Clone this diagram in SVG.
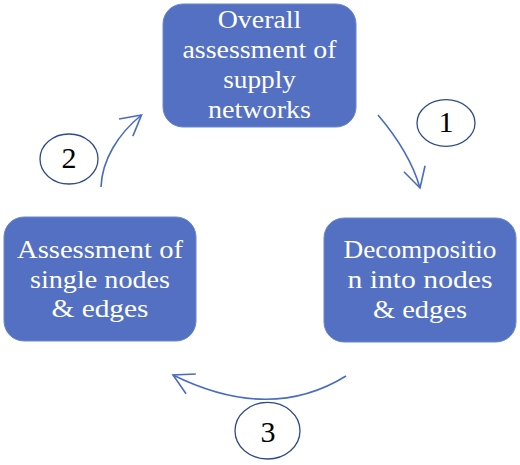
<svg xmlns="http://www.w3.org/2000/svg" width="520" height="465" viewBox="0 0 520 465">
<style>
.box{fill:#5370C2;stroke:#6B86CE;stroke-width:1}
.lbl{font-family:"Liberation Serif","Times New Roman",serif;font-size:24.5px;fill:#ffffff;text-anchor:middle}
.num{font-family:"Liberation Serif","Times New Roman",serif;font-size:30px;fill:#000000;text-anchor:middle}
.ell{fill:#ffffff;stroke:#2F4A8C;stroke-width:1.3}
.con{fill:none;stroke:#4A6CC0;stroke-width:1.6}
</style>
<defs>
<marker id="ah" markerUnits="userSpaceOnUse" markerWidth="30" markerHeight="30" viewBox="-25 -15 30 30" refX="0" refY="0" orient="auto">
<path d="M-20,-11 L0,0 L-20,11" fill="none" stroke="#4A6CC0" stroke-width="1.6"/>
</marker>
</defs>
<rect width="520" height="465" fill="#ffffff"/>
<g id="connectors">
<path class="con" d="M378,115 C395,135 412,160 420,188" marker-end="url(#ah)"/>
<path class="con" d="M346,376 Q270,423 173,375" marker-end="url(#ah)"/>
<path class="con" d="M101,187 C102,160 118,134 141.5,115" marker-end="url(#ah)"/>
</g>
<g id="node-overall">
<rect class="box" x="163" y="4" width="193" height="123" rx="20"/>
<text class="lbl" x="259.5" y="28.3" textLength="83.6" lengthAdjust="spacingAndGlyphs">Overall</text>
<text class="lbl" x="259.5" y="58.3" textLength="154" lengthAdjust="spacingAndGlyphs">assessment of</text>
<text class="lbl" x="259.5" y="88" textLength="72.7" lengthAdjust="spacingAndGlyphs">supply</text>
<text class="lbl" x="259.5" y="118" textLength="103" lengthAdjust="spacingAndGlyphs">networks</text>
</g>
<g id="node-decomposition">
<rect class="box" x="324" y="218" width="192" height="124" rx="20"/>
<text class="lbl" x="420" y="257.7" textLength="153" lengthAdjust="spacingAndGlyphs">Decompositio</text>
<text class="lbl" x="420" y="288.3" textLength="145" lengthAdjust="spacingAndGlyphs">n into nodes</text>
<text class="lbl" x="420" y="318" textLength="94" lengthAdjust="spacingAndGlyphs">&amp; edges</text>
</g>
<g id="node-assessment">
<rect class="box" x="4" y="217" width="192" height="124" rx="20"/>
<text class="lbl" x="100" y="258.3" textLength="166" lengthAdjust="spacingAndGlyphs">Assessment of</text>
<text class="lbl" x="100" y="288" textLength="140" lengthAdjust="spacingAndGlyphs">single nodes</text>
<text class="lbl" x="100" y="317" textLength="97" lengthAdjust="spacingAndGlyphs">&amp; edges</text>
</g>
<g id="step-1">
<ellipse class="ell" cx="446" cy="123" rx="29" ry="23.3"/>
<text class="num" x="446" y="131.7">1</text>
</g>
<g id="step-2">
<ellipse class="ell" cx="69" cy="159" rx="29" ry="25"/>
<text class="num" x="69" y="168.3">2</text>
</g>
<g id="step-3">
<ellipse class="ell" cx="267.5" cy="430.7" rx="32.5" ry="28.3"/>
<text class="num" x="268" y="441.5">3</text>
</g>
</svg>
